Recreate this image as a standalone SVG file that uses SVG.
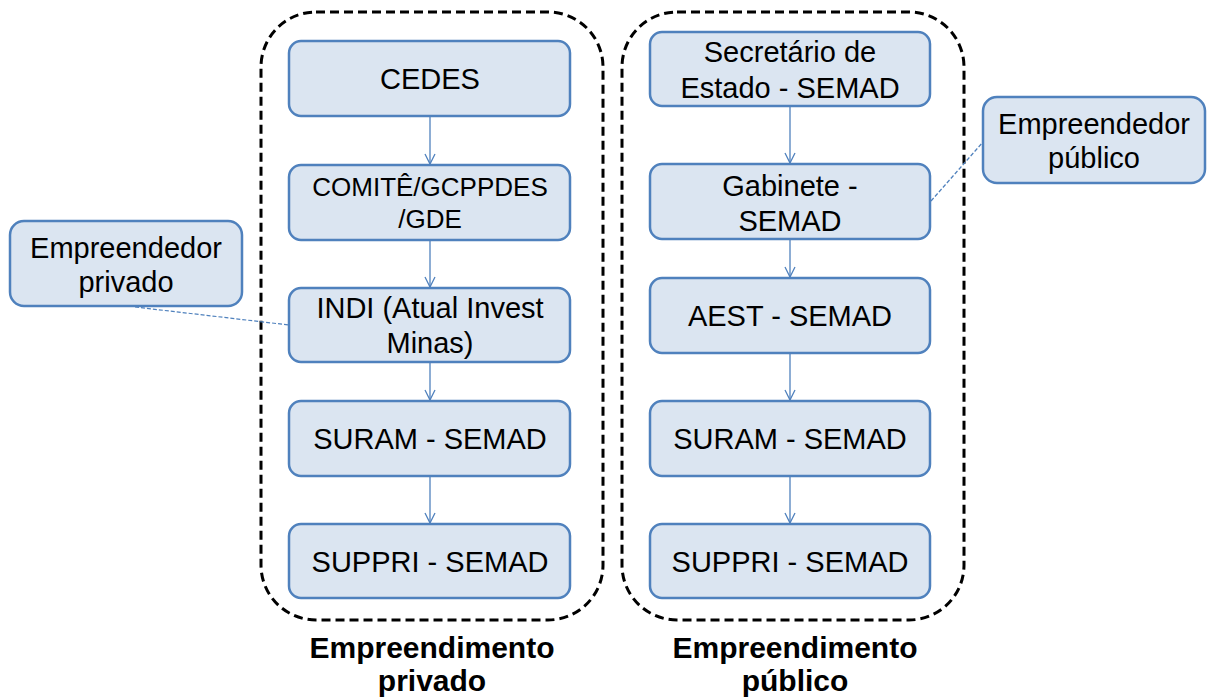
<svg xmlns="http://www.w3.org/2000/svg" width="1219" height="699" viewBox="0 0 1219 699">
<style>
.box{fill:#dbe5f1;stroke:#4f81bd;stroke-width:2.5}
.t{font-family:"Liberation Sans",Arial,sans-serif;font-size:29px;fill:#000;text-anchor:middle}
.s{font-size:26px}
.lab{font-family:"Liberation Sans",Arial,sans-serif;font-size:30px;font-weight:bold;fill:#000;text-anchor:middle}
.grp{fill:none;stroke:#000;stroke-width:3;stroke-dasharray:9 5}
.arr{stroke:#4f81bd;stroke-width:1.3;fill:none;marker-end:url(#ah)}
.dl{stroke:#4f81bd;stroke-width:1.2;fill:none;stroke-dasharray:4 2}
</style>
<defs>
<marker id="ah" viewBox="0 0 12 12" refX="11" refY="6" markerWidth="12" markerHeight="12" markerUnits="userSpaceOnUse" orient="auto">
<path d="M1,1 L11,6 L1,11" fill="none" stroke="#4f81bd" stroke-width="1.3"/>
</marker>
</defs>
<rect width="1219" height="699" fill="#fff"/>
<g id="containers">
<rect class="grp" x="261" y="12" width="342" height="608" rx="55"/>
<rect class="grp" x="622" y="12" width="342" height="608" rx="55"/>
</g>
<g id="connectors">
<line class="arr" x1="430" y1="116" x2="430" y2="164"/>
<line class="arr" x1="430" y1="240" x2="430" y2="287"/>
<line class="arr" x1="430" y1="362" x2="430" y2="400"/>
<line class="arr" x1="430" y1="476" x2="430" y2="523"/>
<line class="arr" x1="790" y1="106" x2="790" y2="163"/>
<line class="arr" x1="790" y1="239" x2="790" y2="277"/>
<line class="arr" x1="790" y1="353" x2="790" y2="400"/>
<line class="arr" x1="790" y1="476" x2="790" y2="523"/>
<line class="dl" x1="135" y1="307" x2="289" y2="325"/>
<line class="dl" x1="931" y1="201" x2="983" y2="142"/>
</g>
<g id="cedes"><rect class="box" x="289" y="41" width="281" height="75" rx="12"/><text class="t" x="430" y="89">CEDES</text></g>
<g id="comite"><rect class="box" x="289" y="165" width="281" height="75" rx="12"/><text class="t s" x="430" y="196">COMITÊ/GCPPDES</text><text class="t s" x="430" y="228">/GDE</text></g>
<g id="indi"><rect class="box" x="289" y="288" width="281" height="74" rx="12"/><text class="t" x="430" y="318">INDI (Atual Invest</text><text class="t" x="430" y="353">Minas)</text></g>
<g id="suram-priv"><rect class="box" x="289" y="401" width="281" height="75" rx="12"/><text class="t" x="430" y="449">SURAM - SEMAD</text></g>
<g id="suppri-priv"><rect class="box" x="289" y="524" width="281" height="74" rx="12"/><text class="t" x="430" y="572">SUPPRI - SEMAD</text></g>
<g id="secretario"><rect class="box" x="650" y="32" width="280" height="74" rx="12"/><text class="t" x="790" y="62">Secretário de</text><text class="t" x="790" y="98">Estado - SEMAD</text></g>
<g id="gabinete"><rect class="box" x="650" y="164" width="280" height="75" rx="12"/><text class="t" x="790" y="196">Gabinete -</text><text class="t" x="790" y="231">SEMAD</text></g>
<g id="aest"><rect class="box" x="650" y="278" width="280" height="75" rx="12"/><text class="t" x="790" y="326">AEST - SEMAD</text></g>
<g id="suram-pub"><rect class="box" x="650" y="401" width="280" height="75" rx="12"/><text class="t" x="790" y="449">SURAM - SEMAD</text></g>
<g id="suppri-pub"><rect class="box" x="650" y="524" width="280" height="74" rx="12"/><text class="t" x="790" y="572">SUPPRI - SEMAD</text></g>
<g id="emp-privado"><rect class="box" x="10" y="221" width="232" height="85" rx="14"/><text class="t" x="126" y="258">Empreendedor</text><text class="t" x="126" y="292">privado</text></g>
<g id="emp-publico"><rect class="box" x="983" y="97" width="222" height="86" rx="14"/><text class="t" x="1094" y="134">Empreendedor</text><text class="t" x="1094" y="168">público</text></g>
<g id="label-privado"><text class="lab" x="432" y="658">Empreendimento</text><text class="lab" x="432" y="691">privado</text></g>
<g id="label-publico"><text class="lab" x="795" y="658">Empreendimento</text><text class="lab" x="795" y="691">público</text></g>
</svg>
